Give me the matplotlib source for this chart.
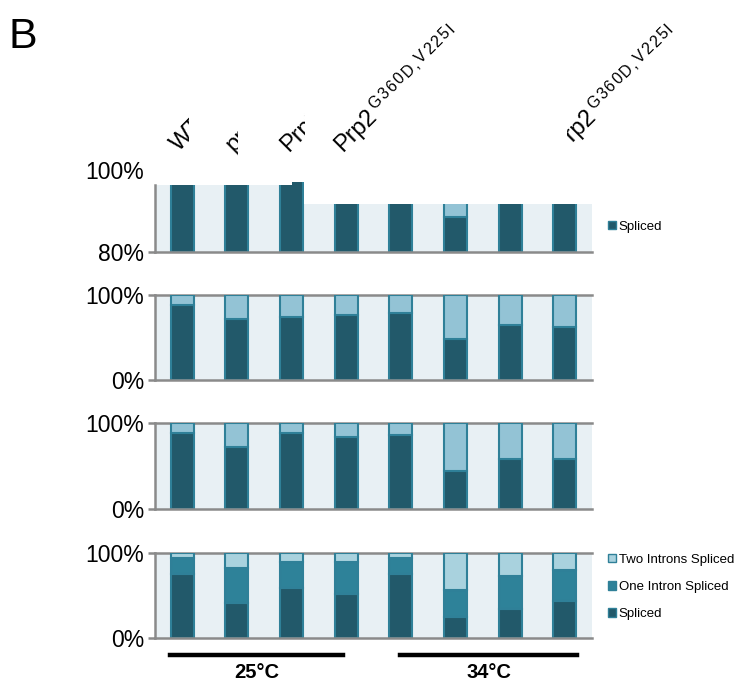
import numpy as np
import matplotlib
matplotlib.use("Agg")
from matplotlib import pyplot as plt
from matplotlib.patches import Polygon, Patch
from matplotlib.transforms import Bbox, TransformedBbox, blended_transform_factory

plt.rcParams['font.family'] = ['Liberation Sans', 'DejaVu Sans']

# strain labels (1-3 and 5-7 are mostly hidden in the source figure)
strains = ["WT", "prp2", "Prp2", "Prp2", "WT", "prp2", "Prp2", "Prp2"]
alleles = ["", "", "", "G360D,V225I", "", "", "", "G360D,V225I"]
temps = ["25°C", "34°C"]

# panel 1 (80-100 % scale)
p1_spliced = [97.0, 97.0, 97.5, 96.0, 96.0, 88.5, 96.0, 96.0]
p1_other = [3.0, 3.0, 2.5, 4.0, 4.0, 11.5, 4.0, 4.0]

# panel 2
p2_spliced = [87.8, 72.0, 74.0, 76.4, 79.0, 48.0, 65.0, 62.0]
p2_other = [12.2, 28.0, 26.0, 23.6, 21.0, 52.0, 35.0, 38.0]

# panel 3
p3_spliced = [88.3, 72.0, 88.3, 83.6, 86.3, 44.5, 57.8, 57.8]
p3_other = [11.7, 28.0, 11.7, 16.4, 13.7, 55.5, 42.2, 42.2]

# panel 4
p4_spliced = [75.8, 41.0, 59.4, 52.0, 75.8, 24.6, 33.6, 43.0]
p4_one = [18.0, 41.4, 30.1, 37.5, 18.0, 31.6, 39.4, 36.7]
p4_two = [6.2, 17.6, 10.5, 10.5, 6.2, 43.8, 27.0, 20.3]

DARK = "#22596a"
MID = "#2e8299"
LIGHT = "#93c3d5"
LIGHTER = "#a9d2de"
EDGE = "#2f8098"
BG = "#e8f0f4"
GRID = "#8a8a8a"

x = np.arange(len(strains))
bw = 0.42

fig = plt.figure(figsize=(7.36, 6.98), dpi=100)

W, H = 736.0, 698.0
def axes_px(top, bottom, left=155, right=592):
    return fig.add_axes([left / W, 1 - bottom / H, (right - left) / W, (bottom - top) / H])

ax1 = axes_px(170, 252)
ax2 = axes_px(295, 380)
ax3 = axes_px(423, 509)
ax4 = axes_px(553, 638)


def style(ax, lo, hi, top_line=True):
    ax.set_xlim(-0.5, len(strains) - 0.5)
    ax.set_ylim(lo, hi)
    ax.set_xticks([])
    ax.set_yticks([lo, hi])
    ax.set_yticklabels([f"{lo}%", f"{hi}%"], fontsize=16.5)
    ax.tick_params(axis='y', length=5, width=1.8, color=GRID, pad=3)
    for s in ['top', 'right']:
        ax.spines[s].set_visible(False)
    for s in ['left', 'bottom']:
        ax.spines[s].set_color(GRID)
        ax.spines[s].set_linewidth(1.8)
    if top_line:
        ax.axhline(hi, color=GRID, lw=1.8, zorder=1, clip_on=False)


# panels 2-4 : full 0-100 %
for ax, spl, oth in [(ax2, p2_spliced, p2_other), (ax3, p3_spliced, p3_other)]:
    ax.set_facecolor(BG)
    ax.bar(x, spl, bw, color=DARK, edgecolor=EDGE, lw=1.5, zorder=2)
    ax.bar(x, oth, bw, bottom=spl, color=LIGHT, edgecolor=EDGE, lw=1.5, zorder=2)
    style(ax, 0, 100)

ax4.set_facecolor(BG)
ax4.bar(x, p4_spliced, bw, color=DARK, edgecolor=EDGE, lw=1.5, zorder=2)
ax4.bar(x, p4_one, bw, bottom=p4_spliced, color=MID, edgecolor=EDGE, lw=1.5, zorder=2)
ax4.bar(x, p4_two, bw, bottom=np.add(p4_spliced, p4_one), color=LIGHTER,
        edgecolor=EDGE, lw=1.5, zorder=2)
style(ax4, 0, 100)
ax4.legend([Patch(fc=LIGHTER, ec=EDGE), Patch(fc=MID, ec=EDGE), Patch(fc=DARK, ec=EDGE)],
           ["Two Introns Spliced", "One Intron Spliced", "Spliced"],
           loc='upper left', bbox_to_anchor=(1.01, 1.13), frameon=False, fontsize=9.5,
           handlelength=0.6, handleheight=0.6, handletextpad=0.2, labelspacing=1.15)

# panel 1 : 80-100 %, top part of source figure is masked
style(ax1, 80, 100, top_line=False)
ax1.set_facecolor("none")
mask = [(-0.5, 80), (-0.5, 96.3), (2.0, 96.3), (2.0, 97.0), (2.23, 97.0),
        (2.23, 91.7), (7.5, 91.7), (7.5, 80)]
ax1.add_patch(Polygon(mask, closed=True, fc=BG, ec="none", zorder=0))
clip = Polygon(mask, closed=True, transform=ax1.transData)
bars = list(ax1.bar(x, np.subtract(p1_spliced, 80), bw, bottom=80, color=DARK,
                    edgecolor=EDGE, lw=1.5, zorder=2))
bars += list(ax1.bar(x, p1_other, bw, bottom=p1_spliced, color=LIGHT,
                     edgecolor=EDGE, lw=1.5, zorder=2))
for b in bars:
    b.set_clip_path(clip)
ax1.spines['left'].set_bounds(80, 96.3)
ax1.yaxis.get_major_ticks()[1].tick1line.set_visible(False)
ax1.legend([Patch(fc=DARK, ec=EDGE)], ["Spliced"], loc='center left',
           bbox_to_anchor=(1.01, 0.31), frameon=False, fontsize=9.5,
           handlelength=0.6, handleheight=0.6, handletextpad=0.2)

# rotated strain labels, cut like in the source
lab_tr = blended_transform_factory(ax1.transData, fig.transFigure)
renderer = fig.canvas.get_renderer()
to_fig = fig.transFigure.inverted()
cs = np.cos(np.pi / 4)


def text_width(s, size):
    tmp = fig.text(0, 0, s, fontsize=size)
    w = tmp.get_window_extent(renderer).width
    tmp.remove()
    return w


visible = {0: (-0.6, 0.13), 1: (0.6, 1.02), 2: (1.6, 2.25), 3: (2.5, 5.0), 7: (7.05, 9.0)}
for i, (lo, hi) in visible.items():
    box = TransformedBbox(Bbox([[lo, 0.0], [hi, 1.0]]), lab_tr)
    anchor = (i - 0.06, 1 - 152 / H)
    t = ax1.text(*anchor, strains[i], transform=lab_tr, rotation=45,
                 rotation_mode='anchor', ha='left', va='baseline', fontsize=17)
    t.set_clip_box(box)
    t.set_clip_on(True)
    if alleles[i]:
        # superscript allele, spaced out a little like the source
        x0, y0 = lab_tr.transform(anchor)
        along = text_width(strains[i], 17) + 2
        rise = 7
        for ch in alleles[i]:
            xs = x0 + along * cs - rise * cs
            ys = y0 + along * cs + rise * cs
            s = fig.text(*to_fig.transform((xs, ys)), ch, rotation=45,
                         rotation_mode='anchor', ha='left', va='baseline', fontsize=11.5)
            s.set_clip_box(box)
            s.set_clip_on(True)
            along += text_width(ch, 11.5) + 1.8

# temperature bars
grp_lo = [-0.22, 3.98]
grp_hi = [2.94, 7.23]
tr4 = blended_transform_factory(ax4.transData, ax4.transAxes)
for lo, hi, lab in zip(grp_lo, grp_hi, temps):
    ax4.plot([lo, hi], [-0.2, -0.2], color="black", lw=3.2, transform=tr4, clip_on=False)
    ax4.text((lo + hi) / 2, -0.4, lab, ha='center', va='center', fontsize=14.5,
             fontweight='bold', transform=tr4)

fig.text(9 / W, 1 - 17 / H, "B", fontsize=31, va='top', ha='left')

fig.savefig("out.png", dpi=100)
